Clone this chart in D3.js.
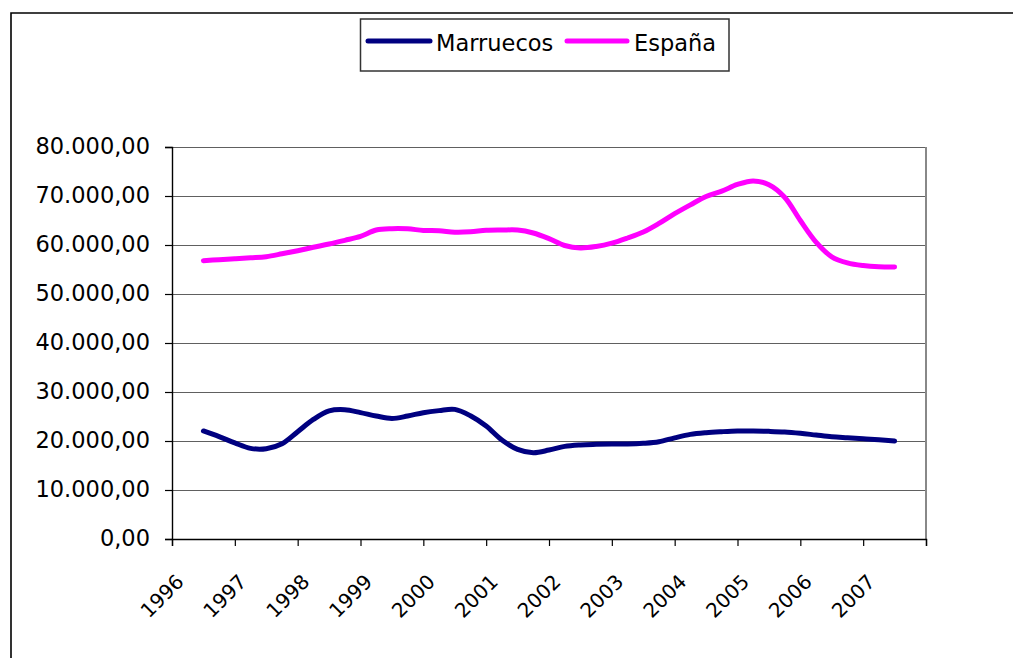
<!DOCTYPE html>
<html>
<head>
<meta charset="utf-8">
<script src="https://cdn.jsdelivr.net/npm/d3@7"></script>
<style>
  html, body { margin: 0; padding: 0; background: #fff; }
  svg { display: block; font-family: "DejaVu Sans", Verdana, sans-serif; }
</style>
</head>
<body>
<svg id="chart" width="1013" height="658"></svg>
<script>
// year labels on the category axis (one tick every 4 quarters)
const years = ["1996", "1997", "1998", "1999", "2000", "2001",
  "2002", "2003", "2004", "2005", "2006", "2007"];

const seriesNames = ["Marruecos", "España"];
const seriesColors = ["#000080", "#ff00ff"];

// quarterly values
const marruecos = [
  22050, 20900, 19600, 18500, 18430, 19450, 21900, 24400, 26150, 26400,
  25800, 25100, 24600, 25100, 25780, 26200, 26450, 25150, 23050, 20200,
  18300, 17620, 18150, 18900, 19200, 19320, 19390, 19390, 19530, 19850,
  20650, 21350, 21700, 21900, 22040, 22040, 21970, 21840, 21570, 21220,
  20880, 20670, 20470, 20260, 20000
];

const espana = [
  56800, 57000, 57200, 57400, 57620, 58200, 58840, 59530, 60200, 60950,
  61750, 63050, 63330, 63300, 62980, 62920, 62600, 62680, 63000, 63050,
  63050, 62450, 61300, 59900, 59400, 59700, 60380, 61430, 62650, 64400,
  66400, 68200, 69900, 71000, 72350, 73080, 72300, 69750, 65000, 60600,
  57600, 56350, 55800, 55560, 55520
];

const svg = d3.select("#chart");

// outer chart frame (clipped by the window on the right and bottom)
svg.append("path")
  .attr("d", "M11,658 V13 H1013")
  .attr("fill", "none")
  .attr("stroke", "#000")
  .attr("stroke-width", 1.6);

const plot = { left: 172, right: 926, top: 147, bottom: 539 };

const x = d3.scaleLinear().domain([-2, 46]).range([plot.left, plot.right]);
const y = d3.scaleLinear().domain([0, 80000]).range([plot.bottom, plot.top]);

const esLocale = d3.formatLocale({
  decimal: ",", thousands: ".", grouping: [3], currency: ["", " €"]
});
const fmt = esLocale.format(",.2f");

const yTicks = d3.range(0, 80001, 10000);

// gridlines
svg.append("g")
  .selectAll("line")
  .data(yTicks.filter((d) => d > 0))
  .join("line")
  .attr("x1", plot.left)
  .attr("x2", plot.right)
  .attr("y1", (d) => y(d) + 0.5)
  .attr("y2", (d) => y(d) + 0.5)
  .attr("stroke", "#606060")
  .attr("stroke-width", 1);

// right border of the plot area
svg.append("line")
  .attr("x1", plot.right)
  .attr("x2", plot.right)
  .attr("y1", plot.top)
  .attr("y2", plot.bottom)
  .attr("stroke", "#888")
  .attr("stroke-width", 2);

// y axis
const yAxis = svg.append("g")
  .attr("transform", `translate(${plot.left},0)`)
  .call(d3.axisLeft(y).tickValues(yTicks).tickSize(7).tickPadding(15).tickFormat(fmt));

yAxis.select(".domain").attr("stroke", "#000").attr("stroke-width", 1.4);
yAxis.selectAll(".tick line").attr("stroke", "#000").attr("stroke-width", 1.2);
yAxis.selectAll(".tick text")
  .attr("font-size", "22.5px")
  .attr("font-family", "DejaVu Sans")
  .attr("fill", "#000")
  .attr("dy", "0.29em");

// x axis
const xTicks = d3.range(-2, 47, 4);
const xAxis = svg.append("g")
  .attr("transform", `translate(0,${plot.bottom})`)
  .call(d3.axisBottom(x).tickValues(xTicks).tickSize(7)
    .tickFormat((d, i) => years[i] || ""));

xAxis.select(".domain").attr("stroke", "#000").attr("stroke-width", 1.4);
xAxis.selectAll(".tick line").attr("stroke", "#000").attr("stroke-width", 1.2);
xAxis.selectAll(".tick text")
  .attr("font-size", "20px")
  .attr("font-family", "DejaVu Sans")
  .attr("fill", "#000")
  .attr("y", 0)
  .attr("dy", 0)
  .attr("text-anchor", "end")
  .attr("transform", "translate(12.5,44) rotate(-45)");

// lines
const line = d3.line()
  .x((d, i) => x(i))
  .y((d) => y(d))
  .curve(d3.curveCatmullRom.alpha(0.5));

[marruecos, espana].forEach((values, k) => {
  svg.append("path")
    .datum(values)
    .attr("fill", "none")
    .attr("stroke", seriesColors[k])
    .attr("stroke-width", 5)
    .attr("stroke-linecap", "round")
    .attr("stroke-linejoin", "round")
    .attr("d", line);
});

// legend
const legend = svg.append("g");
legend.append("rect")
  .attr("x", 360.5)
  .attr("y", 19)
  .attr("width", 368.5)
  .attr("height", 52)
  .attr("fill", "#fff")
  .attr("stroke", "#333")
  .attr("stroke-width", 1.5);

const legendItems = [
  { x1: 368, x2: 430, tx: 436 },
  { x1: 567, x2: 627, tx: 634 }
];

legendItems.forEach((d, k) => {
  legend.append("line")
    .attr("x1", d.x1)
    .attr("x2", d.x2)
    .attr("y1", 41)
    .attr("y2", 41)
    .attr("stroke", seriesColors[k])
    .attr("stroke-width", 5)
    .attr("stroke-linecap", "round");
  legend.append("text")
    .attr("x", d.tx)
    .attr("y", 51)
    .attr("font-size", "22.5px")
    .attr("fill", "#000")
    .text(seriesNames[k]);
});
</script>
</body>
</html>
